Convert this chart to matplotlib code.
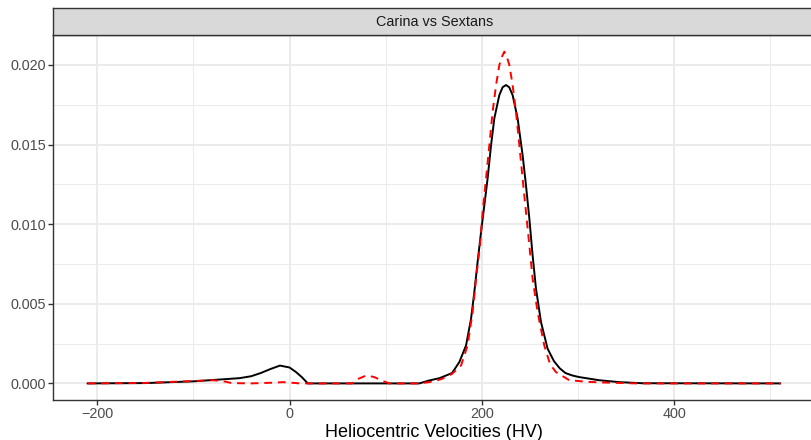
import matplotlib.pyplot as plt
import numpy as np

plt.rcParams['font.family'] = ['Liberation Sans', 'DejaVu Sans']

# densities
carina_x = [-210, -150, -100, -52, -40, -30, -20, -10, 0, 7, 13, 19, 135, 145, 156,
            169, 176.6, 183.6, 188.8, 192.2, 195.6, 199.2, 202.6, 206, 209.6, 213,
            218.2, 221.6, 225.1, 228.5, 232, 237.2, 242.4, 245.9, 249.4, 252.8,
            256.3, 261.5, 268.4, 275, 281, 287, 294, 301, 322, 343, 367, 510]
carina_y = [0, 0.00002, 0.00013, 0.00033, 0.00045, 0.00065, 0.0009, 0.00112, 0.00100,
            0.0007, 0.00038, 0, 0, 0.00018, 0.00033, 0.00065, 0.00134, 0.00239,
            0.00407, 0.00574, 0.00763, 0.00952, 0.01119, 0.01287, 0.01497, 0.01665,
            0.01811, 0.0186, 0.01874, 0.0186, 0.01811, 0.01665, 0.01434, 0.01245,
            0.01036, 0.00805, 0.00596, 0.00386, 0.00218, 0.0014, 0.00095, 0.00065,
            0.0005, 0.0004, 0.0002, 0.00008, 0.00001, 0]

sextans_x = [-210, -150, -100, -80, -70, -60, -40, -15, -7, 5, 10, 65, 72, 80, 88,
             97, 104, 135, 150, 159, 169, 178.4, 185.2, 190.4, 194, 198.1, 200.8,
             204.4, 207.8, 211.2, 214.8, 218.2, 220.8, 223.4, 226, 228.6, 232,
             235.5, 239, 242.4, 245.9, 249.4, 252.8, 258, 264.9, 271, 277.1, 291,
             310, 325, 360, 511]
sextans_y = [0, 0.00003, 0.00015, 0.0002, 0.00015, 0.00002, 0, 0.00005, 0.00008,
             0.00003, 0, 0, 0.0003, 0.0005, 0.0004, 0.00015, 0, 0, 0.00012, 0.0003,
             0.0006, 0.00113, 0.00239, 0.00448, 0.00658, 0.00868, 0.01077, 0.01289,
             0.01497, 0.01706, 0.01874, 0.02, 0.0205, 0.02084, 0.0205, 0.02, 0.01874,
             0.01706, 0.01497, 0.01287, 0.01077, 0.00868, 0.00658, 0.00448, 0.00239,
             0.0012, 0.00071, 0.0002, 0.0001, 0.00006, 0, 0]

x_ticks = [-200, 0, 200, 400]
y_ticks = [0.000, 0.005, 0.010, 0.015, 0.020]


def density_graph(filename):
    fig = plt.figure(figsize=(8.11, 4.4), dpi=100)
    W, H = 811, 440
    left, right, bottom, top = 53 / W, 815.5 / W, 1 - 400 / H, 1 - 35 / H
    ax = fig.add_axes([left, bottom, right - left, top - bottom])

    lo = min(carina_x + sextans_x)
    hi = max(carina_x + sextans_x)
    ax.set_xlim(lo - 0.05 * (hi - lo), hi + 0.05 * (hi - lo))
    ymax = max(carina_y + sextans_y)
    ax.set_ylim(-0.05 * ymax, 1.05 * ymax)

    ax.set_xticks(x_ticks)
    ax.set_xticklabels(['\u2212200', '0', '200', '400'])
    ax.set_xticks([-100, 100, 300, 500], minor=True)
    ax.set_yticks(y_ticks)
    ax.set_yticklabels(['%.3f' % v for v in y_ticks])
    ax.set_yticks(np.arange(0.0025, 0.021, 0.005), minor=True)

    ax.grid(which='major', color='#EBEBEB', linewidth=1.4)
    ax.grid(which='minor', color='#EBEBEB', linewidth=0.7)
    ax.set_axisbelow(True)
    ax.tick_params(which='major', length=3.3, width=1.0, color='#333333',
                   labelsize=10.4, labelcolor='#4D4D4D', pad=1.8)
    ax.tick_params(which='minor', length=0)
    for s in ax.spines.values():
        s.set_color('#333333')
        s.set_linewidth(1.0)

    ax.plot(carina_x, carina_y, color='black', linewidth=1.4)
    ax.plot(sextans_x, sextans_y, color='red', linewidth=1.4, dashes=(4, 3))

    ax.set_xlabel('Heliocentric Velocities (HV)', fontsize=13, labelpad=2)

    strip = fig.add_axes([left, top, right - left, 27 / H])
    strip.set_facecolor('#D9D9D9')
    strip.set_xticks([])
    strip.set_yticks([])
    for s in strip.spines.values():
        s.set_color('#333333')
        s.set_linewidth(1.0)
    strip.text(0.5, 0.5, 'Carina vs Sextans', ha='center', va='center',
               fontsize=10.4, color='#1A1A1A', transform=strip.transAxes)

    fig.savefig(filename, dpi=100)
    plt.close(fig)


if __name__ == "__main__":
    density_graph('out.png')
